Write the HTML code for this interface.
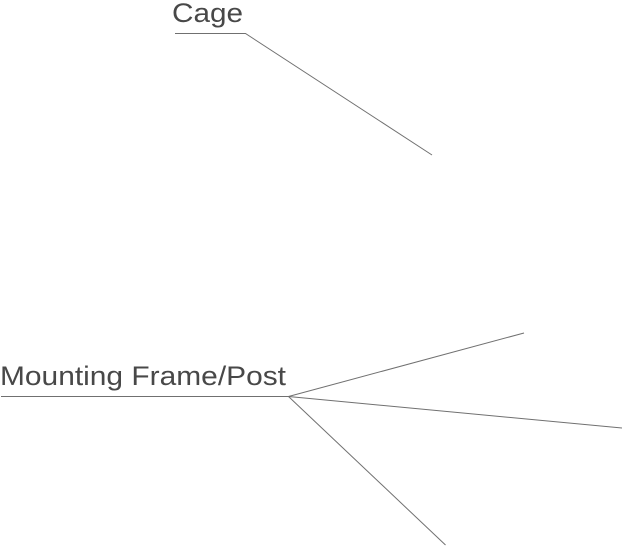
<!DOCTYPE html>
<html>
<head>
<meta charset="utf-8">
<style>
html,body{margin:0;padding:0;background:#fff;width:622px;height:546px;overflow:hidden}
svg{display:block}
text{font-family:"Liberation Sans",sans-serif;font-size:27px;fill:#484848}
</style>
</head>
<body>
<svg width="622" height="546" viewBox="0 0 622 546" xmlns="http://www.w3.org/2000/svg">
<text x="172" y="22" textLength="71" lengthAdjust="spacingAndGlyphs">Cage</text>
<text x="0" y="385" textLength="286" lengthAdjust="spacingAndGlyphs">Mounting Frame/Post</text>
<g fill="none" stroke="#707070" stroke-width="1">
<polyline points="175,33.5 245.5,33.5 432,155"/>
<line x1="1" y1="396.5" x2="288.5" y2="396.5"/>
<line x1="288.5" y1="396.5" x2="524" y2="333"/>
<line x1="288.5" y1="396.5" x2="622" y2="428"/>
<line x1="288.5" y1="396.5" x2="445.5" y2="545"/>
</g>
</svg>
</body>
</html>
